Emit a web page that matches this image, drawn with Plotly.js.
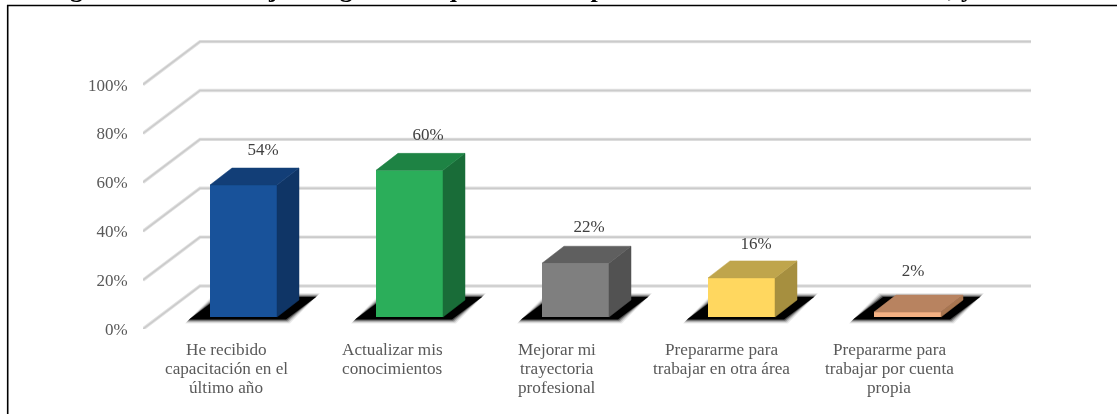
<!DOCTYPE html>
<html>
<head>
<meta charset="utf-8">
<script src="https://cdn.plot.ly/plotly-3.0.1.min.js"></script>
<style>html,body{margin:0;padding:0;background:#fff;overflow:hidden}</style>
</head>
<body>
<div id="chart" style="width:1117px;height:415px;filter:blur(0.35px)"></div>
<script>
// ---- data ----
const categories = [
  ["He recibido", "capacitación en el", "último año"],
  ["Actualizar mis", "conocimientos"],
  ["Mejorar mi", "trayectoria", "profesional"],
  ["Prepararme para", "trabajar en otra área"],
  ["Prepararme para", "trabajar por cuenta", "propia"]
];
const values = [54, 60, 22, 16, 2];
const valueLabels = ["54%", "60%", "22%", "16%", "2%"];
const yTicks = [0, 20, 40, 60, 80, 100];
const yTickLabels = ["0%", "20%", "40%", "60%", "80%", "100%"];
const titleText = "Figura 17: Porcentaje de egresados que se han capacitado en los últimos 12 meses, y cobertura.";

// ---- styles ----
const frontColors = ["#18529A", "#2BAE5A", "#7F7F7F", "#FFD75F", "#F4B183"];
const topColors   = ["#123E77", "#1E8344", "#5F5F5F", "#BFA54C", "#B88360"];
const sideColors  = ["#0F3566", "#196C38", "#525252", "#A68F3F", "#A8754F"];

// ---- geometry: pixels per data unit, plot box in pixels ----
const W = 1117, H = 415;
const M = {l: 143, r: 86, t: 30, b: 86};
const pxX = 166, pxY = 2.444;
const X = px => px / pxX, Y = px => px / pxY;
const xRange = [X(143 - 243.5), X(1031 - 243.5)];
const yRange = [0, Y(H - M.t - M.b)];
const wallDX = X(57), wallDY = Y(43);
const barW = X(67), barDX = X(22), barDY = Y(17);
const floorY = Y(12);
const idx = values.map((_, i) => i);

// ---- grid walls ----
const shapes = [];
yTicks.forEach(v => {
  const path = `M ${xRange[0]},${v} L ${xRange[0] + wallDX},${v + wallDY} L ${xRange[1]},${v + wallDY}`;
  shapes.push({type: "path", path, xref: "x", yref: "y", layer: "below", line: {color: "#E2E2E2", width: 3.4}});
  shapes.push({type: "path", path, xref: "x", yref: "y", layer: "below", line: {color: "#CBCBCB", width: 1.6}});
});

// ---- floor shadows ----
function shadow(i, grow, fill) {
  const g = X(grow), gy = Y(grow);
  const l = i - barW / 2 - X(21) - g, r = i + barW / 2 + X(9) + g;
  const b = floorY - Y(2.5) - gy, t = floorY + Y(20) + gy, s = X(30);
  shapes.push({type: "path", xref: "x", yref: "y", layer: "below", line: {width: 0}, fillcolor: fill,
    path: `M ${l},${b} L ${r},${b} L ${r + s},${t} L ${l + s},${t} Z`});
}
idx.forEach(i => {
  shadow(i, 4, "rgba(0,0,0,0.08)");
  shadow(i, 3, "rgba(0,0,0,0.14)");
  shadow(i, 2, "rgba(0,0,0,0.25)");
  shadow(i, 1, "rgba(0,0,0,0.45)");
  shadow(i, 0, "#000000");
});

// ---- frame ----
const pX = px => (px - M.l) / (W - M.l - M.r);
const pY = py => 1 - (py - M.t) / (H - M.t - M.b);
shapes.push({type: "path", xref: "paper", yref: "paper", layer: "above", line: {color: "#000000", width: 1.6},
  path: `M ${pX(1117)},${pY(5.5)} L ${pX(7.7)},${pY(5.5)} L ${pX(7.7)},${pY(414)}`});

// ---- traces ----
const traces = [];
traces.push({
  type: "bar", x: idx, y: values, base: idx.map(() => floorY), width: barW,
  marker: {color: frontColors, line: {width: 0}}, hoverinfo: "skip", cliponaxis: false, showlegend: false
});
idx.forEach(i => {
  const xr = i + barW / 2, xl = i - barW / 2, top = floorY + values[i];
  traces.push({type: "scatter", mode: "lines", fill: "toself", fillcolor: sideColors[i],
    line: {color: sideColors[i], width: 0.5}, hoverinfo: "skip", showlegend: false, cliponaxis: false,
    x: [xr, xr + barDX, xr + barDX, xr, xr], y: [floorY, floorY + barDY, top + barDY, top, floorY]});
  traces.push({type: "scatter", mode: "lines", fill: "toself", fillcolor: topColors[i],
    line: {color: topColors[i], width: 0.5}, hoverinfo: "skip", showlegend: false, cliponaxis: false,
    x: [xl, xr, xr + barDX, xl + barDX, xl], y: [top, top, top + barDY, top + barDY, top]});
});
const labelDX = [19.5, 18.5, 13.5, 14.5, 5.5];
const labelDY = [17, 18, 18, 16, 23];
traces.push({
  type: "scatter", mode: "text", cliponaxis: false, hoverinfo: "skip", showlegend: false,
  x: idx.map(i => i + X(labelDX[i])),
  y: idx.map(i => floorY + values[i] + barDY + Y(labelDY[i])),
  text: valueLabels, textposition: "middle center",
  textfont: {family: "Liberation Serif", size: 17, color: "#404040"}
});

// ---- annotations ----
const annotations = [];
const catDX = [-17.5, -17.5, -18.5, -20, -18.5];
categories.forEach((lines, i) => lines.forEach((t, j) => annotations.push({
  text: t, xref: "x", yref: "y", x: i + X(catDX[i]), y: 0, xanchor: "center", yanchor: "middle",
  yshift: -(20 + 19 * j), showarrow: false,
  font: {family: "Liberation Serif", size: 17.2, color: "#595959"}
})));
annotations.push({
  text: "<b>" + titleText + "</b>", xref: "paper", yref: "paper", x: pX(45), y: pY(5.5),
  xanchor: "left", yanchor: "bottom", showarrow: false, align: "left",
  font: {family: "Liberation Serif", size: 26, color: "#000000"}
});

Plotly.newPlot("chart", traces, {
  width: W, height: H, margin: {l: M.l, r: M.r, t: M.t, b: M.b, autoexpand: false},
  paper_bgcolor: "#FFFFFF", plot_bgcolor: "rgba(0,0,0,0)", showlegend: false, barmode: "overlay",
  xaxis: {type: "linear", range: xRange, showgrid: false, zeroline: false, showline: false,
    showticklabels: false, ticks: "", fixedrange: true},
  yaxis: {range: yRange, tickvals: yTicks, ticktext: yTickLabels, showgrid: false, zeroline: false, showline: false,
    ticks: "outside", ticklen: 11, tickcolor: "rgba(0,0,0,0)", tickfont: {family: "Liberation Serif", size: 17, color: "#595959"},
    fixedrange: true},
  shapes, annotations
}, {displayModeBar: false, staticPlot: true});
</script>
</body>
</html>
